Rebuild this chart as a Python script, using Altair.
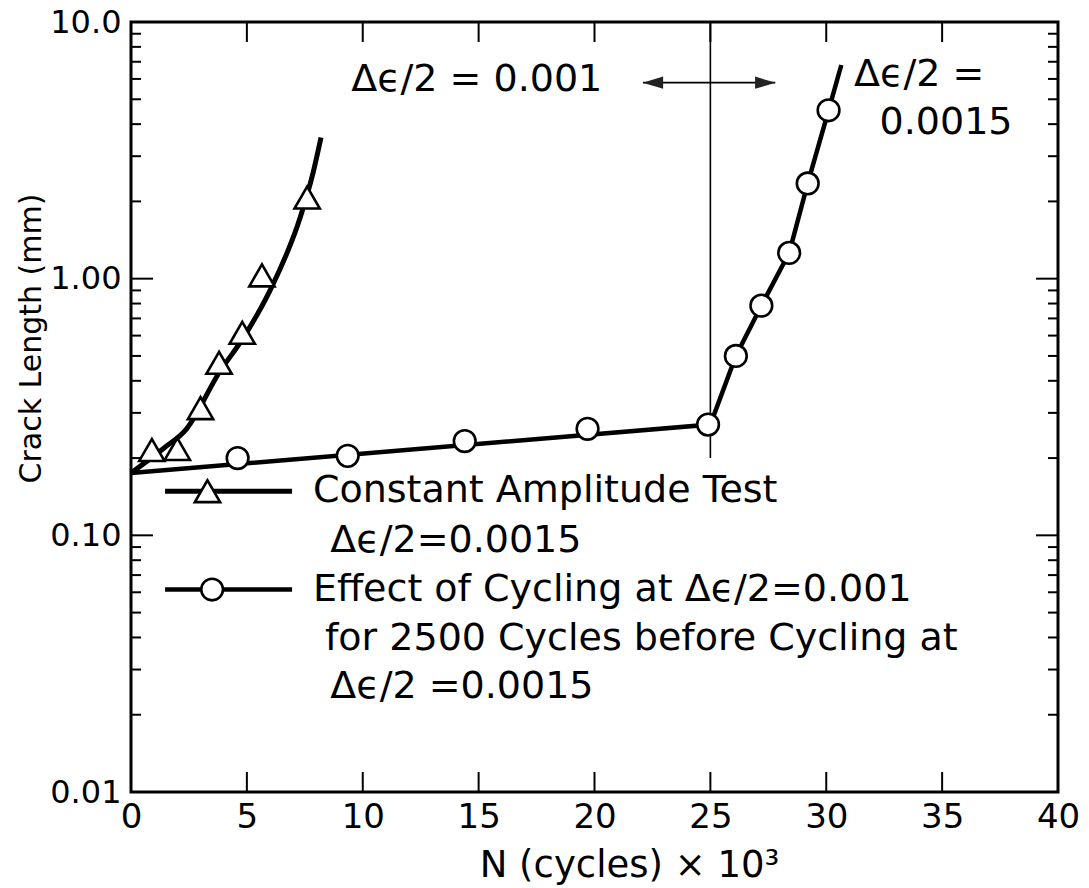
import altair as alt
import pandas as pd

FONT = "DejaVu Sans"

# ---- data ----
# constant amplitude test (triangles)
tri_x = [0.9, 2.0, 3.0, 3.8, 4.8, 5.65, 7.6]
tri_y = [0.215, 0.217, 0.313, 0.47, 0.615, 1.03, 2.07]
# smooth fitted curve through triangles
tri_curve_x = [0.0, 1.4, 2.4, 3.8, 4.8, 6.0, 7.3, 7.85, 8.2]
tri_curve_y = [0.175, 0.218, 0.26, 0.43, 0.58, 0.9, 1.73, 2.57, 3.55]

# cycling at 0.001 then 0.0015 (circles)
cyc_x = [4.6, 9.35, 14.4, 19.7, 24.9, 26.1, 27.2, 28.4, 29.2, 30.1]
cyc_y = [0.2, 0.204, 0.233, 0.26, 0.27, 0.5, 0.785, 1.26, 2.35, 4.53]
cyc_line_x = [0.0, 25.0, 26.1, 27.2, 28.4, 29.2, 30.1, 30.65]
cyc_line_y = [0.175, 0.27, 0.5, 0.785, 1.26, 2.35, 4.53, 6.8]

# divider at the change of amplitude
divider_x = [25.0]
divider_top = [10.0]
divider_bottom = [0.2]

# double arrow
arrow_x1 = [22.09]
arrow_x2 = [27.8]
arrow_y = [5.8]
arrow_head_x = [22.52, 27.37]
arrow_head_shape = ["M-1,0L1,-0.6L1,0.6Z", "M1,0L-1,-0.6L-1,0.6Z"]

# annotation texts
ann_text = ["Δϵ/2 = 0.001", "Δϵ/2 =", "0.0015",
            "Constant Amplitude Test", "Δϵ/2=0.0015",
            "Effect of Cycling at Δϵ/2=0.001",
            "for 2500 Cycles before Cycling at", "Δϵ/2 =0.0015"]
ann_x = [9.5, 31.2, 32.3, 7.85, 8.6, 7.85, 8.37, 8.6]
ann_y = [5.93, 6.21, 4.03, 0.1486, 0.0948, 0.0615, 0.0396, 0.0257]

# legend samples
leg_line_x = [1.47, 6.95]
leg_tri_y = 0.1486
leg_cyc_y = 0.0615
leg_tri_mark_x = [3.3]
leg_cyc_mark_x = [3.5]

# axes
x_ticks = [0, 5, 10, 15, 20, 25, 30, 35, 40]
x_inner_ticks = [5, 10, 15, 20, 25, 30, 35]
y_ticks = [0.01, 0.1, 1.0, 10.0]
y_tick_labels = ["0.01", "0.10", "1.00", "10.0"]
y_major_inner = [0.1, 1.0]
y_minor = [m * d for d in (0.01, 0.1, 1.0) for m in range(2, 10)]

W, H = 927, 770

xs = alt.Scale(domain=[0, 40], nice=False, zero=False)
ys = alt.Scale(type="log", domain=[0.01, 10], nice=False)

label_expr = " : ".join(
    f"datum.value < {v * 1.5} ? '{t}'" for v, t in zip(y_ticks[:-1], y_tick_labels[:-1])
) + f" : '{y_tick_labels[-1]}'"

x_axis = alt.Axis(values=x_ticks, ticks=False, domain=False, grid=False,
                  labelFlush=False,
                  labelFontSize=34, labelPadding=8, labelFont=FONT, labelColor="black",
                  title="N (cycles) × 10³", titleFontSize=37, titleFont=FONT,
                  titleFontWeight="normal", titleColor="black",
                  titleX=498, titleY=84, titleBaseline="alphabetic")
y_axis = alt.Axis(values=y_ticks, ticks=False, domain=False, grid=False,
                  labelFlush=False,
                  labelExpr=label_expr, labelFontSize=32, labelPadding=10,
                  labelFont=FONT, labelColor="black",
                  title="Crack Length (mm)", titleFontSize=30, titleFont=FONT,
                  titleFontWeight="normal", titleColor="black",
                  titleX=-100, titleY=316, titleAlign="center", titleBaseline="middle")


def X(field):
    return alt.X(field, type="quantitative", scale=xs, axis=x_axis)


def Y(field):
    return alt.Y(field, type="quantitative", scale=ys, axis=y_axis)


def pts(x, y):
    return pd.DataFrame({"x": x, "y": y})


# ---- layers ----
curve = alt.Chart(pts(tri_curve_x, tri_curve_y)).mark_line(
    color="black", strokeWidth=5, interpolate="monotone").encode(x=X("x"), y=Y("y"))

cyc_line = alt.Chart(pts(cyc_line_x, cyc_line_y)).mark_line(
    color="black", strokeWidth=4.5).encode(x=X("x"), y=Y("y"))

div_df = pd.DataFrame({"x": divider_x, "y": divider_top, "y2": divider_bottom})
divider = alt.Chart(div_df).mark_rule(color="black", strokeWidth=1.6).encode(
    x=X("x"), y=Y("y"), y2="y2:Q")

arr_df = pd.DataFrame({"x": arrow_x1, "x2": arrow_x2, "y": arrow_y})
arrow_line = alt.Chart(arr_df).mark_rule(color="black", strokeWidth=1.8).encode(
    x=X("x"), x2="x2:Q", y=Y("y"))
heads = []
for hx, hs in zip(arrow_head_x, arrow_head_shape):
    heads.append(alt.Chart(pts([hx], arrow_y)).mark_point(
        shape=hs, size=420, filled=True, color="#222", opacity=1).encode(x=X("x"), y=Y("y")))

tri_style = dict(shape="triangle-up", size=640, filled=True, fill="white",
                 stroke="black", strokeWidth=2.6, opacity=1)
cyc_style = dict(shape="circle", size=470, filled=True, fill="white",
                 stroke="black", strokeWidth=2.6, opacity=1)

tri_pts = alt.Chart(pts(tri_x, tri_y)).mark_point(**tri_style).encode(x=X("x"), y=Y("y"))
cyc_pts = alt.Chart(pts(cyc_x, cyc_y)).mark_point(**cyc_style).encode(x=X("x"), y=Y("y"))

# legend samples
leg_tri_line = alt.Chart(pts(leg_line_x, [leg_tri_y] * 2)).mark_line(
    color="black", strokeWidth=5).encode(x=X("x"), y=Y("y"))
leg_cyc_line = alt.Chart(pts(leg_line_x, [leg_cyc_y] * 2)).mark_line(
    color="black", strokeWidth=4.5).encode(x=X("x"), y=Y("y"))
leg_tri_pt = alt.Chart(pts(leg_tri_mark_x, [leg_tri_y])).mark_point(**tri_style).encode(
    x=X("x"), y=Y("y"))
leg_cyc_pt = alt.Chart(pts(leg_cyc_mark_x, [leg_cyc_y])).mark_point(**cyc_style).encode(
    x=X("x"), y=Y("y"))

ann_df = pd.DataFrame({"x": ann_x, "y": ann_y, "t": ann_text})
texts = alt.Chart(ann_df).mark_text(align="left", baseline="middle", font=FONT,
                                    fontSize=38, color="black").encode(
    x=X("x"), y=Y("y"), text="t:N")

# inward ticks
xt_df = pd.DataFrame({"x": x_inner_ticks})
bottom_ticks = alt.Chart(xt_df).mark_rule(color="black", strokeWidth=2).encode(
    x=X("x"), y=alt.value(H), y2=alt.value(H - 20))
top_ticks = alt.Chart(xt_df).mark_rule(color="black", strokeWidth=2).encode(
    x=X("x"), y=alt.value(0), y2=alt.value(20))

ymaj_df = pd.DataFrame({"y": y_major_inner})
ymin_df = pd.DataFrame({"y": y_minor})
left_major = alt.Chart(ymaj_df).mark_rule(color="black", strokeWidth=2).encode(
    y=Y("y"), x=alt.value(0), x2=alt.value(22))
right_major = alt.Chart(ymaj_df).mark_rule(color="black", strokeWidth=2).encode(
    y=Y("y"), x=alt.value(W), x2=alt.value(W - 22))
left_minor = alt.Chart(ymin_df).mark_rule(color="black", strokeWidth=2).encode(
    y=Y("y"), x=alt.value(0), x2=alt.value(10))
right_minor = alt.Chart(ymin_df).mark_rule(color="black", strokeWidth=2).encode(
    y=Y("y"), x=alt.value(W), x2=alt.value(W - 10))

chart = alt.layer(
    curve, cyc_line, divider, arrow_line, *heads, tri_pts, cyc_pts,
    leg_tri_line, leg_cyc_line, leg_tri_pt, leg_cyc_pt, texts,
    bottom_ticks, top_ticks, left_major, right_major, left_minor, right_minor,
).properties(
    width=W, height=H,
    autosize=alt.AutoSizeParams(type="none"),
    padding={"left": 131, "top": 22, "right": 1089 - 131 - W, "bottom": 888 - 22 - H},
    background="white",
).configure_view(
    stroke="black", strokeWidth=3,
)

chart.save("out.html", embed_options={"renderer": "svg", "actions": False})
